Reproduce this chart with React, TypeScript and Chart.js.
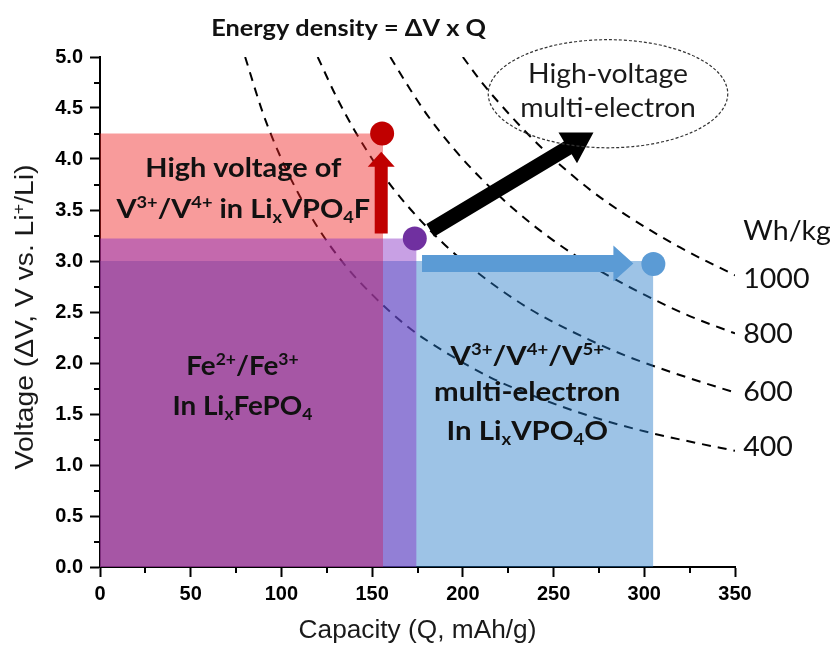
import React, { useEffect, useRef } from 'react';
import { Chart, registerables } from 'chart.js';

Chart.register(...registerables);

// ---------------- DATA ----------------
// Iso-energy curves (Wh/kg)
const curve400Q = [80, 90, 100, 110, 120, 135, 150, 170, 190, 215, 240, 270, 300, 325, 350];
const curve400V = [5.0, 4.44, 4.0, 3.64, 3.33, 2.96, 2.67, 2.35, 2.11, 1.86, 1.67, 1.48, 1.33, 1.23, 1.14];
const curve600Q = [120, 130, 140, 155, 170, 190, 210, 235, 260, 290, 320, 350];
const curve600V = [5.0, 4.62, 4.29, 3.87, 3.53, 3.16, 2.86, 2.55, 2.31, 2.07, 1.88, 1.71];
const curve800Q = [160, 170, 180, 195, 210, 230, 250, 275, 300, 325, 350];
const curve800V = [5.0, 4.71, 4.44, 4.1, 3.81, 3.48, 3.2, 2.91, 2.67, 2.46, 2.29];
const curve1000Q = [200, 210, 220, 235, 250, 270, 290, 320, 350];
const curve1000V = [5.0, 4.76, 4.55, 4.26, 4.0, 3.7, 3.45, 3.13, 2.86];

// Shaded regions: capacity span and voltage level
const blueRegionQ = [0, 305];
const blueRegionV = 3.0;
const redRegionQ = [0, 156];
const redRegionV = 4.25;
const purpleRegionQ = [0, 174.5];
const purpleRegionV = 3.22;

// Marker points (red, purple, blue)
const pointQ = [155.5, 173.5, 305];
const pointV = [4.25, 3.22, 2.97];

// Arrows (tail -> tip)
const redArrowQ = [155, 155];
const redArrowV = [3.27, 4.07];
const blueArrowQ = [177.5, 294];
const blueArrowV = [2.975, 2.975];
const blackArrowQ = [182, 272];
const blackArrowV = [3.3, 4.26];

// Axis ticks
const xTicks = [0, 50, 100, 150, 200, 250, 300, 350];
const yTicks = [0, 0.5, 1, 1.5, 2, 2.5, 3, 3.5, 4, 4.5, 5];

// Energy-density labels on the right
const energyLabels = ['Wh/kg', '1000', '800', '600', '400'];
const energyLabelV = [3.3, 2.83, 2.29, 1.72, 1.18];
const energyLabelQ = 354.5;

// ---------------- TEXT ----------------
type Seg = { t: string; s?: 'sup' | 'sub' };
const titleText: Seg[] = [{ t: 'Energy density = ΔV x Q' }];
const xTitle: Seg[] = [{ t: 'Capacity (Q, mAh/g)' }];
const yTitle: Seg[] = [{ t: 'Voltage (ΔV, V vs. Li' }, { t: '+', s: 'sup' }, { t: '/Li)' }];
const redLabel: Seg[][] = [
  [{ t: 'High voltage of' }],
  [{ t: 'V' }, { t: '3+', s: 'sup' }, { t: '/V' }, { t: '4+', s: 'sup' }, { t: ' in Li' }, { t: 'x', s: 'sub' }, { t: 'VPO' }, { t: '4', s: 'sub' }, { t: 'F' }],
];
const redLabelQ = 79;
const redLabelV = [3.92, 3.52];
const feLabel: Seg[][] = [
  [{ t: 'Fe' }, { t: '2+', s: 'sup' }, { t: '/Fe' }, { t: '3+', s: 'sup' }],
  [{ t: 'In Li' }, { t: 'x', s: 'sub' }, { t: 'FePO' }, { t: '4', s: 'sub' }],
];
const feLabelQ = 78.5;
const feLabelV = [1.98, 1.59];
const blueLabel: Seg[][] = [
  [{ t: 'V' }, { t: '3+', s: 'sup' }, { t: '/V' }, { t: '4+', s: 'sup' }, { t: '/V' }, { t: '5+', s: 'sup' }],
  [{ t: 'multi-electron' }],
  [{ t: 'In Li' }, { t: 'x', s: 'sub' }, { t: 'VPO' }, { t: '4', s: 'sub' }, { t: 'O' }],
];
const blueLabelQ = 235.5;
const blueLabelV = [2.08, 1.72, 1.34];
const ellipseLabel = ['High-voltage', 'multi-electron'];
const ellipseQ = 280;
const ellipseV = 4.64;
const ellipseHalfQ = 66;
const ellipseHalfV = 0.53;
const ellipseLabelV = [4.84, 4.5];

// ---------------- STYLES ----------------
const ANNO_FONT = 'Lato, "Open Sans", sans-serif';
const AXIS_FONT = '"Liberation Sans", Arial, sans-serif';
const RED = '#C00000';
const BLUE = '#5B9BD5';
const PURPLE = '#7030A0';

function drawRich(
  ctx: CanvasRenderingContext2D,
  segs: Seg[],
  cx: number,
  cy: number,
  size: number,
  weight: string,
  color: string,
  align: 'center' | 'left' = 'center',
  hscale = 1,
  family = ANNO_FONT
) {
  const main = `${weight} ${size}px ${family}`;
  const small = `${weight} ${Math.round(size * 0.62)}px ${family}`;
  let w = 0;
  for (const sg of segs) {
    ctx.font = sg.s ? small : main;
    w += ctx.measureText(sg.t).width;
  }
  const startX = align === 'center' ? cx - (w * hscale) / 2 : cx;
  ctx.save();
  ctx.translate(startX, cy);
  ctx.scale(hscale, 1);
  ctx.textAlign = 'left';
  ctx.textBaseline = 'alphabetic';
  ctx.fillStyle = color;
  const base = size * 0.36;
  let x = 0;
  for (const sg of segs) {
    ctx.font = sg.s ? small : main;
    const dy = sg.s === 'sup' ? -size * 0.36 : sg.s === 'sub' ? size * 0.2 : 0;
    ctx.fillText(sg.t, x, base + dy);
    x += ctx.measureText(sg.t).width;
  }
  ctx.restore();
}

function drawArrow(ctx: CanvasRenderingContext2D, x0: number, y0: number, x1: number, y1: number, sw: number, hw: number, hl: number, color: string) {
  const dx = x1 - x0, dy = y1 - y0;
  const len = Math.hypot(dx, dy);
  const ux = dx / len, uy = dy / len;
  const nx = -uy, ny = ux;
  const bx = x1 - ux * hl, by = y1 - uy * hl;
  ctx.beginPath();
  ctx.moveTo(x0 + (nx * sw) / 2, y0 + (ny * sw) / 2);
  ctx.lineTo(bx + (nx * sw) / 2, by + (ny * sw) / 2);
  ctx.lineTo(bx + (nx * hw) / 2, by + (ny * hw) / 2);
  ctx.lineTo(x1, y1);
  ctx.lineTo(bx - (nx * hw) / 2, by - (ny * hw) / 2);
  ctx.lineTo(bx - (nx * sw) / 2, by - (ny * sw) / 2);
  ctx.lineTo(x0 - (nx * sw) / 2, y0 - (ny * sw) / 2);
  ctx.closePath();
  ctx.fillStyle = color;
  ctx.fill();
}

const annotationPlugin = {
  id: 'annotations',
  afterDatasetsDraw(chart: any) {
    const ctx: CanvasRenderingContext2D = chart.ctx;
    const xs = chart.scales.x;
    const ys = chart.scales.y;
    const px = (q: number) => xs.getPixelForValue(q);
    const py = (v: number) => ys.getPixelForValue(v);
    ctx.save();
    // arrows
    drawArrow(ctx, px(redArrowQ[0]), py(redArrowV[0]), px(redArrowQ[1]), py(redArrowV[1]), 13, 27, 15, RED);
    drawArrow(ctx, px(blueArrowQ[0]), py(blueArrowV[0]), px(blueArrowQ[1]), py(blueArrowV[1]), 17, 36, 20, BLUE);
    drawArrow(ctx, px(blackArrowQ[0]), py(blackArrowV[0]), px(blackArrowQ[1]), py(blackArrowV[1]), 15, 36, 30, '#000');
    // ellipse
    const ecx = px(ellipseQ), ecy = py(ellipseV);
    ctx.beginPath();
    ctx.ellipse(ecx, ecy, px(ellipseQ + ellipseHalfQ) - ecx, ecy - py(ellipseV + ellipseHalfV), 0, 0, Math.PI * 2);
    ctx.setLineDash([3, 2]);
    ctx.lineWidth = 1.2;
    ctx.strokeStyle = '#333';
    ctx.stroke();
    ctx.setLineDash([]);
    ellipseLabel.forEach((t, i) => drawRich(ctx, [{ t }], ecx, py(ellipseLabelV[i]), 26, 'normal', '#1a1a1a', 'center', 1.09));
    // title
    drawRich(ctx, titleText, px(137), py(5.28), 22, 'bold', '#111', 'center', 1.15);
    // region labels
    redLabel.forEach((l, i) => drawRich(ctx, l, px(redLabelQ), py(redLabelV[i]), 27, 'bold', '#111', 'center', 1.07));
    feLabel.forEach((l, i) => drawRich(ctx, l, px(feLabelQ), py(feLabelV[i]), 27, 'bold', '#111', 'center', 1.03));
    blueLabel.forEach((l, i) => drawRich(ctx, l, px(blueLabelQ), py(blueLabelV[i]), 27, 'bold', '#111', 'center', 1.09));
    // energy labels
    energyLabels.forEach((t, i) => drawRich(ctx, [{ t }], px(energyLabelQ), py(energyLabelV[i]), 27, 'normal', '#111', 'left', 1.06));
    ctx.restore();
  },
  afterDraw(chart: any) {
    const ctx: CanvasRenderingContext2D = chart.ctx;
    const xs = chart.scales.x;
    const ys = chart.scales.y;
    const area = chart.chartArea;
    ctx.save();
    // minor ticks
    ctx.strokeStyle = '#000';
    ctx.lineWidth = 2;
    ctx.beginPath();
    for (let i = 0; i < xTicks.length - 1; i++) {
      const x = Math.round(xs.getPixelForValue((xTicks[i] + xTicks[i + 1]) / 2));
      ctx.moveTo(x, area.bottom);
      ctx.lineTo(x, area.bottom + 6);
    }
    for (let i = 0; i < yTicks.length - 1; i++) {
      const y = Math.round(ys.getPixelForValue((yTicks[i] + yTicks[i + 1]) / 2));
      ctx.moveTo(area.left, y);
      ctx.lineTo(area.left - 6, y);
    }
    ctx.stroke();
    // axis titles
    drawRich(ctx, xTitle, (area.left + area.right) / 2, 629, 25, 'normal', '#1a1a1a', 'center', 1.05, AXIS_FONT);
    ctx.save();
    ctx.translate(24, 317);
    ctx.rotate(-Math.PI / 2);
    drawRich(ctx, yTitle, 0, 0, 25, 'normal', '#1a1a1a', 'center', 1.13, AXIS_FONT);
    ctx.restore();
    ctx.restore();
  },
};

function pts(q: number[], v: number[]) {
  return q.map((x, i) => ({ x, y: v[i] }));
}

export default function App() {
  const ref = useRef<HTMLCanvasElement>(null);
  useEffect(() => {
    document.body.style.margin = '0';
    const curveStyle = {
      type: 'line' as const,
      borderColor: '#000',
      borderWidth: 2,
      borderDash: [9, 7],
      pointRadius: 0,
      fill: false,
      cubicInterpolationMode: 'monotone' as const,
      order: 10,
    };
    const regionStyle = { type: 'line' as const, borderWidth: 0, pointRadius: 0, tension: 0 };
    const chart = new Chart(ref.current!, {
      type: 'scatter',
      data: {
        datasets: [
          { ...curveStyle, data: pts(curve400Q, curve400V) },
          { ...curveStyle, data: pts(curve600Q, curve600V) },
          { ...curveStyle, data: pts(curve800Q, curve800V) },
          { ...curveStyle, data: pts(curve1000Q, curve1000V) },
          { ...regionStyle, data: blueRegionQ.map((x) => ({ x, y: blueRegionV })), fill: 'origin', backgroundColor: 'rgba(38,122,200,0.45)', borderColor: 'rgba(0,0,0,0)', order: 9 },
          { ...regionStyle, data: redRegionQ.map((x) => ({ x, y: redRegionV })), fill: 'origin', backgroundColor: 'rgba(240,33,33,0.45)', borderColor: 'rgba(0,0,0,0)', order: 8 },
          { ...regionStyle, data: purpleRegionQ.map((x) => ({ x, y: purpleRegionV })), fill: 'origin', backgroundColor: 'rgba(133,44,195,0.45)', borderColor: 'rgba(0,0,0,0)', order: 7 },
          {
            type: 'scatter',
            data: pts(pointQ, pointV),
            pointRadius: 12,
            pointBackgroundColor: [RED, PURPLE, BLUE],
            backgroundColor: [RED, PURPLE, BLUE],
            borderWidth: 0,
            pointBorderWidth: 0,
            order: 1,
          } as any,
        ],
      },
      options: {
        responsive: false,
        animation: false,
        layout: { padding: { top: 57, right: 95, left: 0, bottom: 0 } },
        plugins: { legend: { display: false }, tooltip: { enabled: false }, title: { display: false } },
        scales: {
          x: {
            type: 'linear',
            min: 0,
            max: 350,
            z: 1,
            afterBuildTicks: (s: any) => { s.ticks = xTicks.map((value) => ({ value })); },
            afterFit: (s: any) => { s.height = 79; },
            ticks: { color: '#000', font: { family: AXIS_FONT, size: 20, weight: 'bold' }, padding: 5, maxRotation: 0 },
            grid: { drawOnChartArea: false, drawTicks: true, tickLength: 10, tickWidth: 2, tickColor: '#000' },
            border: { display: true, color: '#000', width: 2 },
            title: { display: false },
          },
          y: {
            type: 'linear',
            min: 0,
            max: 5,
            z: 1,
            afterBuildTicks: (s: any) => { s.ticks = yTicks.map((value) => ({ value })); },
            afterFit: (s: any) => { s.width = 100; },
            ticks: { color: '#000', font: { family: AXIS_FONT, size: 20, weight: 'bold' }, padding: 7, callback: (v: any) => Number(v).toFixed(1) },
            grid: { drawOnChartArea: false, drawTicks: true, tickLength: 10, tickWidth: 2, tickColor: '#000' },
            border: { display: true, color: '#000', width: 2 },
            title: { display: false },
          },
        },
      },
      plugins: [annotationPlugin],
    } as any);
    return () => chart.destroy();
  }, []);
  return (
    <div style={{ width: 830, height: 646 }}>
      <canvas ref={ref} width={830} height={646} style={{ display: 'block' }} />
    </div>
  );
}
